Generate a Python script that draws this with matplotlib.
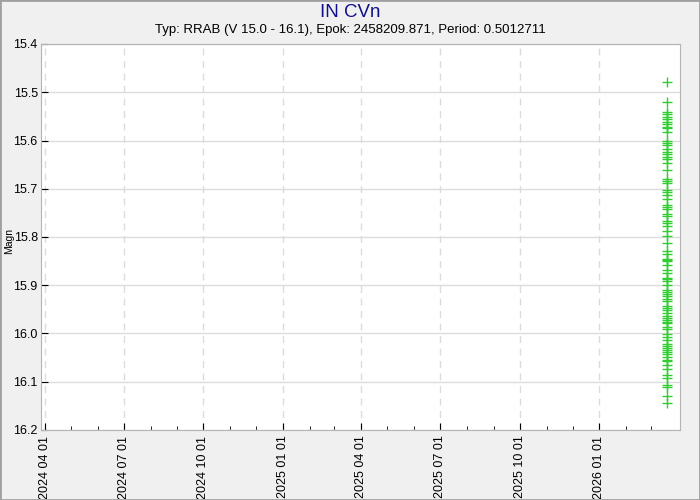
import numpy as np
import pandas as pd
import matplotlib
matplotlib.use("Agg")
import matplotlib.pyplot as plt
import matplotlib.dates as mdates
from matplotlib.patches import Rectangle

plt.rcParams['font.family'] = ['Liberation Sans', 'DejaVu Sans']

star_name = "IN CVn"
subtitle = "Typ: RRAB (V 15.0 - 16.1), Epok: 2458209.871, Period: 0.5012711"

# one night of observations, all at the same date
obs_date = "2026-03-20"
magn = [15.479, 15.520, 15.540, 15.546, 15.551, 15.555, 15.561, 15.566, 15.571,
        15.574, 15.582, 15.601, 15.605, 15.610, 15.617, 15.624, 15.629, 15.634,
        15.639, 15.646, 15.662, 15.679, 15.684, 15.689, 15.703, 15.706, 15.712,
        15.722, 15.733, 15.738, 15.741, 15.753, 15.756, 15.767, 15.772, 15.777,
        15.788, 15.798, 15.812, 15.828, 15.835, 15.845, 15.848, 15.850, 15.857,
        15.868, 15.875, 15.884, 15.887, 15.892, 15.899, 15.910, 15.914, 15.918,
        15.923, 15.928, 15.933, 15.944, 15.948, 15.951, 15.958, 15.963, 15.968,
        15.972, 15.976, 15.979, 15.986, 15.991, 16.000, 16.008, 16.013, 16.022,
        16.026, 16.030, 16.035, 16.038, 16.042, 16.049, 16.054, 16.058, 16.065,
        16.074, 16.086, 16.093, 16.107, 16.111, 16.130, 16.145]

# labelled quarter ticks
tick_dates = ["2024-04-01", "2024-07-01", "2024-10-01", "2025-01-01",
              "2025-04-01", "2025-07-01", "2025-10-01", "2026-01-01"]
minor_start = "2024-04-01"
minor_end = "2026-03-01"

x_start = "2024-03-27"
x_end = "2026-04-04"
y_top = 15.4
y_bottom = 16.2

dates = pd.to_datetime([obs_date] * len(magn))

fig = plt.figure(figsize=(7, 5), dpi=100, facecolor='#f0f0f0')
fig.patches.append(Rectangle((0, 0), 1, 1, transform=fig.transFigure,
                             fill=False, edgecolor='#a0a0a0', lw=2))
ax = fig.add_axes([0.0579, 0.14, 0.9136, 0.772])
ax.set_facecolor('white')

ax.plot(dates, magn, linestyle='none', marker='+', color='#33cc33',
        markersize=7.5, markeredgewidth=1.0)

ax.set_xlim(pd.Timestamp(x_start), pd.Timestamp(x_end))
ax.set_ylim(y_bottom, y_top)
ax.set_yticks(np.arange(15.4, 16.21, 0.1))
ax.yaxis.set_major_formatter(matplotlib.ticker.FormatStrFormatter('%.1f'))

major = mdates.date2num(pd.to_datetime(tick_dates))
minor = mdates.date2num(pd.date_range(minor_start, minor_end, freq='MS'))
ax.set_xticks(major)
ax.set_xticks(minor, minor=True)
ax.xaxis.set_major_formatter(mdates.DateFormatter('%Y %m %d'))
plt.setp(ax.get_xticklabels(), rotation=90)

ax.tick_params(axis='both', which='major', direction='in', length=5,
               labelsize=9, color='black', pad=4)
ax.tick_params(axis='y', which='major', pad=2)
ax.tick_params(axis='x', which='minor', direction='in', length=3, color='black')

ax.yaxis.grid(True, color='#dcdcdc', linestyle='-', linewidth=1)
ax.xaxis.grid(True, color='#dcdcdc', linestyle=(0, (5, 4)), linewidth=1)
ax.set_axisbelow(True)

for s in ax.spines.values():
    s.set_color('#b4b4b4')

ax.set_ylabel("Magn", fontsize=7.5)
ax.yaxis.set_label_coords(-0.042, 0.49)

fig.text(0.5, 0.975, star_name, ha='center', va='center', fontsize=13.5, color='#10108c')
fig.text(0.5, 0.941, subtitle, ha='center', va='center', fontsize=9.5)

fig.savefig("out.png", dpi=100, facecolor=fig.get_facecolor())
